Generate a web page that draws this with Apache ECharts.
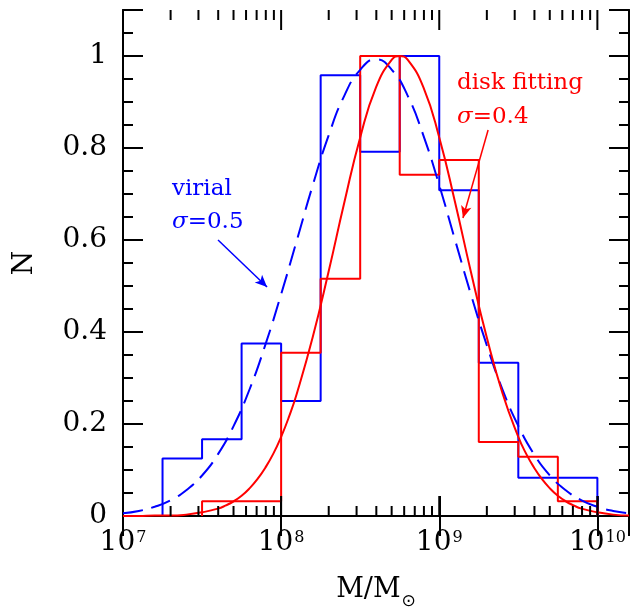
<!DOCTYPE html>
<html>
<head>
<meta charset="utf-8">
<script src="https://cdn.jsdelivr.net/npm/echarts@6/dist/echarts.min.js"></script>
<style>html,body{margin:0;padding:0;background:#fff}#c{width:643px;height:608px}</style>
</head>
<body>
<div id="c"></div>
<script>
// ---- data (log10 M on x) ----
const blueEdges = [7.25, 7.5, 7.75, 8.0, 8.25, 8.5, 8.75, 9.0, 9.25, 9.5, 9.75, 10.0];
const blueHist  = [0.125, 0.167, 0.375, 0.25, 0.958, 0.792, 1.0, 0.708, 0.333, 0.083, 0.083];
const redEdges  = [7.5, 7.75, 8.0, 8.25, 8.5, 8.75, 9.0, 9.25, 9.5, 9.75, 10.0];
const redHist   = [0.032, 0.032, 0.355, 0.516, 1.0, 0.742, 0.774, 0.161, 0.129, 0.032];

const blueCurveX = [7.0,7.1,7.2,7.3,7.4,7.5,7.6,7.7,7.8,7.9,8.0,8.1,8.2,8.3,8.4,8.5,8.6,8.7,8.8,8.9,9.0,9.1,9.2,9.3,9.4,9.5,9.6,9.7,9.8,9.9,10.0,10.1,10.2];
const blueCurveY = [0.006,0.011,0.020,0.034,0.056,0.088,0.134,0.196,0.275,0.372,0.482,0.600,0.719,0.827,0.914,0.970,0.993,0.970,0.914,0.827,0.719,0.600,0.482,0.372,0.275,0.196,0.134,0.088,0.056,0.034,0.020,0.011,0.006];
const redCurveX = [7.0,7.1,7.2,7.3,7.4,7.5,7.6,7.65,7.7,7.75,7.8,7.85,7.9,7.95,8.0,8.05,8.1,8.2,8.3,8.4,8.5,8.6,8.7,8.75,8.8,8.9,9.0,9.1,9.2,9.3,9.4,9.5,9.55,9.6,9.65,9.7,9.75,9.8,9.85,9.9,10.0,10.1,10.2];
const redCurveY = [0.000,0.000,0.001,0.001,0.003,0.008,0.016,0.023,0.032,0.044,0.060,0.080,0.105,0.135,0.172,0.216,0.267,0.389,0.531,0.682,0.823,0.932,0.992,1.0,0.992,0.932,0.823,0.682,0.531,0.389,0.267,0.172,0.135,0.105,0.080,0.060,0.044,0.032,0.023,0.016,0.008,0.003,0.001];

const xMin = 7, xMax = 10.2, yMin = 0, yMax = 1.1;
const majorDecades = [7, 8, 9, 10];
const minorMultipliers = [2, 3, 4, 5, 6, 7, 8, 9];

const blueArrow = [[7.601, 0.600], [7.911, 0.498]];
const redArrow  = [[9.309, 0.839], [9.150, 0.648]];

// ---- build ----
function stepData(edges, vals) {
  const d = [[edges[0], 0]];
  for (let i = 0; i < vals.length; i++) d.push([edges[i], vals[i]]);
  d.push([edges[edges.length - 1], 0]);
  return d;
}
const zip = (a, b) => a.map((v, i) => [v, b[i]]);
const xTicks = [];
majorDecades.forEach(d => {
  if (d > xMin && d < xMax) xTicks.push([d, 20]);
  minorMultipliers.forEach(k => {
    const v = d + Math.log10(k);
    if (v > xMin && v < xMax) xTicks.push([v, 10]);
  });
});

const BLUE = '#0000ff', RED = '#ff0000';
const FONT = 'DejaVu Serif';

const axisLineStyle = { show: true, lineStyle: { color: '#000', width: 2 } };
function yAx(pos, interval, len, labels) {
  return {
    type: 'value', position: pos, min: yMin, max: yMax, interval: interval,
    axisLine: axisLineStyle,
    axisTick: { show: true, inside: true, length: len, lineStyle: { color: '#000', width: 2 } },
    splitLine: { show: false },
    axisLabel: labels ? {
      show: true, margin: 16, color: '#000', fontFamily: FONT, fontSize: 28,
      formatter: v => (Math.abs(v - 1.1) < 1e-6 ? '' : String(+v.toFixed(2)))
    } : { show: false },
    name: labels ? 'N' : '', nameLocation: 'middle', nameGap: 84, nameRotate: 90,
    nameTextStyle: { color: '#000', fontFamily: FONT, fontSize: 28 }
  };
}
function xAx(pos, labels) {
  return {
    type: 'value', position: pos, min: xMin, max: xMax, interval: 1,
    axisLine: axisLineStyle,
    axisTick: { show: true, inside: true, length: 20, lineStyle: { color: '#000', width: 2 } },
    splitLine: { show: false },
    axisLabel: labels ? {
      show: true, margin: 12, color: '#000',
      formatter: v => (Math.abs(v - Math.round(v)) > 1e-6 ? '' : '{b|10}{s|' + Math.round(v) + '}'),
      rich: {
        b: { fontFamily: FONT, fontSize: 28, lineHeight: 30, color: '#000' },
        s: { fontFamily: FONT, fontSize: 16, lineHeight: 16, verticalAlign: 'top', padding: [2, 0, 0, 1], color: '#000' }
      }
    } : { show: false },
    name: labels ? '{a|M/M}{sub|⊙}' : '', nameLocation: 'middle', nameGap: 60,
    nameTextStyle: {
      rich: {
        a: { fontFamily: FONT, fontSize: 27, lineHeight: 30, verticalAlign: 'top', color: '#000' },
        sub: { fontFamily: 'DejaVu Sans', fontSize: 17, lineHeight: 17, verticalAlign: 'top', padding: [17, 0, 0, 1], color: '#000' }
      }
    }
  };
}

const option = {
  animation: false,
  backgroundColor: '#fff',
  grid: { left: 123, right: 14, top: 10, bottom: 92, containLabel: false, outerBoundsMode: 'none' },
  xAxis: [xAx('bottom', true), xAx('top', false)],
  yAxis: [yAx('left', 0.2, 20, true), yAx('left', 0.05, 10, false), yAx('right', 0.2, 20, false), yAx('right', 0.05, 10, false)],
  series: [
    { type: 'line', step: 'end', data: stepData(blueEdges, blueHist), showSymbol: false, silent: true,
      lineStyle: { color: BLUE, width: 2 }, z: 2 },
    { type: 'line', step: 'end', data: stepData(redEdges, redHist), showSymbol: false, silent: true,
      lineStyle: { color: RED, width: 2 }, z: 3 },
    { type: 'line', data: zip(blueCurveX, blueCurveY), smooth: true, showSymbol: false, silent: true,
      lineStyle: { color: BLUE, width: 2, type: [20, 9] }, z: 4,
      markLine: { silent: true, symbol: ['none', 'arrow'], symbolSize: [8, 12], label: { show: false },
        lineStyle: { color: BLUE, width: 1.5, type: 'solid' },
        data: [[{ coord: blueArrow[0] }, { coord: blueArrow[1] }]] } },
    { type: 'line', data: zip(redCurveX, redCurveY), smooth: true, showSymbol: false, silent: true,
      lineStyle: { color: RED, width: 2 }, z: 5,
      markLine: { silent: true, symbol: ['none', 'arrow'], symbolSize: [8, 12], label: { show: false },
        lineStyle: { color: RED, width: 1.5, type: 'solid' },
        data: [[{ coord: redArrow[0] }, { coord: redArrow[1] }]] } },
    { type: 'custom', data: xTicks, silent: true, z: 10,
      renderItem: (params, api) => {
        const v = api.value(0);
        const len = api.value(1);
        const b = api.coord([v, yMin]);
        const t = api.coord([v, yMax]);
        const st = { stroke: '#000', lineWidth: 2 };
        return { type: 'group', children: [
          { type: 'line', shape: { x1: b[0], y1: b[1], x2: b[0], y2: b[1] - len }, style: st },
          { type: 'line', shape: { x1: t[0], y1: t[1], x2: t[0], y2: t[1] + len }, style: st }
        ] };
      } }
  ],
  graphic: [
    { type: 'text', left: 172, top: 173, silent: true,
      style: { text: 'virial\n{i|σ}=0.5', fill: BLUE, fontFamily: FONT, fontSize: 23, lineHeight: 33,
        rich: { i: { fontStyle: 'italic', fontFamily: FONT, fontSize: 23, fill: BLUE, lineHeight: 33 } } } },
    { type: 'text', left: 457, top: 66, silent: true,
      style: { text: 'disk fitting\n{i|σ}=0.4', fill: RED, fontFamily: FONT, fontSize: 23, lineHeight: 34,
        rich: { i: { fontStyle: 'italic', fontFamily: FONT, fontSize: 23, fill: RED, lineHeight: 34 } } } }
  ]
};
echarts.init(document.getElementById('c')).setOption(option);
</script>
</body>
</html>
